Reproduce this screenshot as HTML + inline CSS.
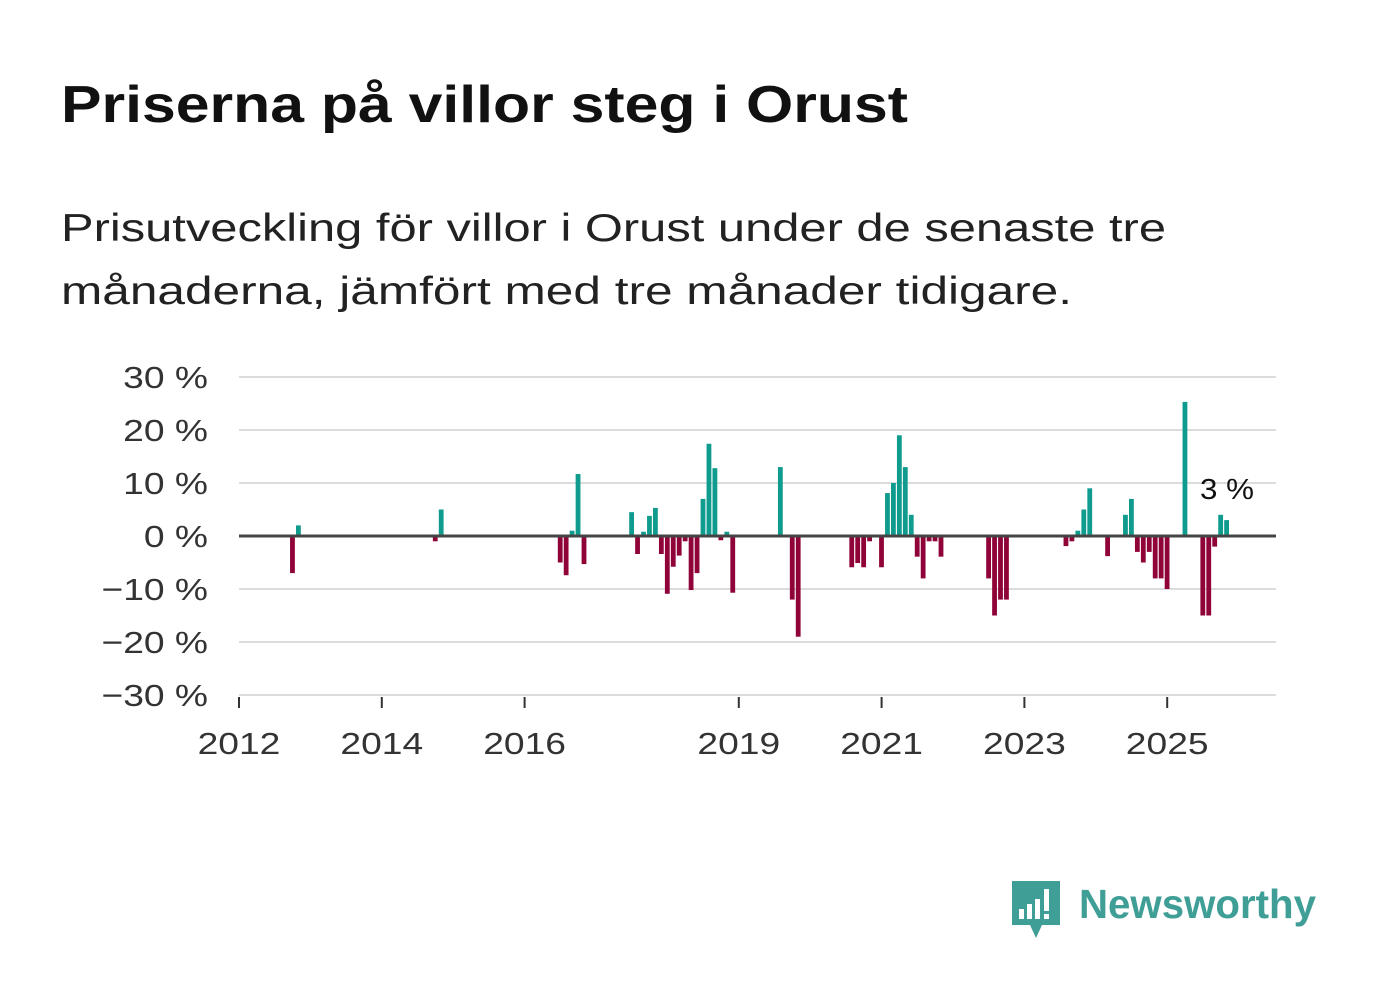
<!DOCTYPE html>
<html><head><meta charset="utf-8"><style>
body{margin:0;background:#fff;width:1382px;height:999px;overflow:hidden;font-family:"Liberation Sans",sans-serif}
</style></head><body>
<svg id="chart" width="1382" height="999" xmlns="http://www.w3.org/2000/svg" font-family="Liberation Sans, sans-serif">
<text x="61" y="122" font-size="52" font-weight="bold" fill="#111" textLength="847" lengthAdjust="spacingAndGlyphs">Priserna på villor steg i Orust</text>
<text x="61" y="241" font-size="39" fill="#222" textLength="1105" lengthAdjust="spacingAndGlyphs">Prisutveckling för villor i Orust under de senaste tre</text>
<text x="61" y="304" font-size="39" fill="#222" textLength="1011" lengthAdjust="spacingAndGlyphs">månaderna, jämfört med tre månader tidigare.</text>
<g id="grid"></g>
<g id="bars"></g>
<g id="xaxis"></g>
<text x="1200" y="499" font-size="29" fill="#111" textLength="54" lengthAdjust="spacingAndGlyphs">3 %</text>
<g>
<path d="M1012 881 h48 v44 h-18 l-6 13 l-6 -13 h-18 z" fill="#3f9e96"/>
<rect x="1019" y="909" width="5" height="10" fill="#fff"/>
<rect x="1027" y="904" width="5" height="15" fill="#fff"/>
<rect x="1035" y="899" width="5" height="20" fill="#fff"/>
<rect x="1044" y="889" width="5" height="22" fill="#fff"/>
<rect x="1044" y="914" width="5" height="5" fill="#fff"/>
<text x="1079" y="918" font-size="41" font-weight="bold" fill="#3f9e96" textLength="237" lengthAdjust="spacingAndGlyphs">Newsworthy</text>
</g>
</svg>
<script>
const yTicks=[30,20,10,0,-10,-20,-30];
const yTickLabels=["30 %","20 %","10 %","0 %","−10 %","−20 %","−30 %"];
const xTickYears=[2012,2014,2016,2019,2021,2023,2025];
const barMonthIndex=[9,10,33,34,54,55,56,57,58,66,67,68,69,70,71,72,73,74,75,76,77,78,79,80,81,82,83,91,93,94,103,104,105,106,108,109,110,111,112,113,114,115,116,117,118,126,127,128,129,139,140,141,142,143,146,149,150,151,152,153,154,155,156,159,162,163,164,165,166];
const barValues=[-7,2,-1,5,-5,-7.4,1,11.7,-5.3,4.5,-3.4,0.8,3.8,5.3,-3.4,-10.9,-5.8,-3.7,-1,-10.2,-7,7,17.4,12.8,-0.8,0.8,-10.7,13,-12,-19,-5.9,-5.1,-5.9,-1,-5.9,8.1,10,19,13,4,-3.9,-8,-1,-1,-3.9,-8,-15,-12,-12,-1.9,-1,1,5,9,-3.8,4,7,-3,-5,-3,-8,-8,-10,25.3,-15,-15,-2,4,3];
const NS="http://www.w3.org/2000/svg";
const x0=239,monthW=71.4/12,y0=536,pxPer=5.3,xEnd=1276;
const xScale=m=>x0+m*monthW;
const yScale=v=>y0-v*pxPer;
function mk(tag,attrs,parent){const e=document.createElementNS(NS,tag);for(const k in attrs)e.setAttribute(k,attrs[k]);parent.appendChild(e);return e;}
function widen(t,f){const w=t.getComputedTextLength();t.setAttribute('textLength',w*f);t.setAttribute('lengthAdjust','spacingAndGlyphs');}
const grid=document.getElementById('grid'),bars=document.getElementById('bars'),xa=document.getElementById('xaxis');
yTicks.forEach((t,i)=>{
 if(t!==0){const l=mk('line',{x1:x0,x2:xEnd,y1:yScale(t),y2:yScale(t),stroke:'#dcdcdc','stroke-width':2},grid);
 
 }
 const tx=mk('text',{x:208,y:yScale(t)+11,'font-size':31,'text-anchor':'end',fill:'#333'},grid);
 tx.textContent=yTickLabels[i];
 
 
 widen(tx,1.2);
});
barMonthIndex.forEach((m,i)=>{
 const v=barValues[i];const cx=xScale(m);
 const r=mk('rect',{x:cx-2.5,width:4.8,y:v>=0?yScale(v):y0,height:Math.abs(v)*pxPer,fill:v>=0?'#0f9b8e':'#8f0338'},bars);
 
 
});
const zl=mk('line',{x1:x0,x2:xEnd,y1:y0,y2:y0,stroke:'#444','stroke-width':3},bars);


xTickYears.forEach(y=>{
 const x=xScale((y-2012)*12);
 const tk=mk('line',{x1:x,x2:x,y1:697,y2:708,stroke:'#333','stroke-width':2},xa);
 
 
 const tx=mk('text',{x:x,y:754,'font-size':31,'text-anchor':'middle',fill:'#333'},xa);
 tx.textContent=y;
 
 
 widen(tx,1.2);
});
</script>
</body></html>
